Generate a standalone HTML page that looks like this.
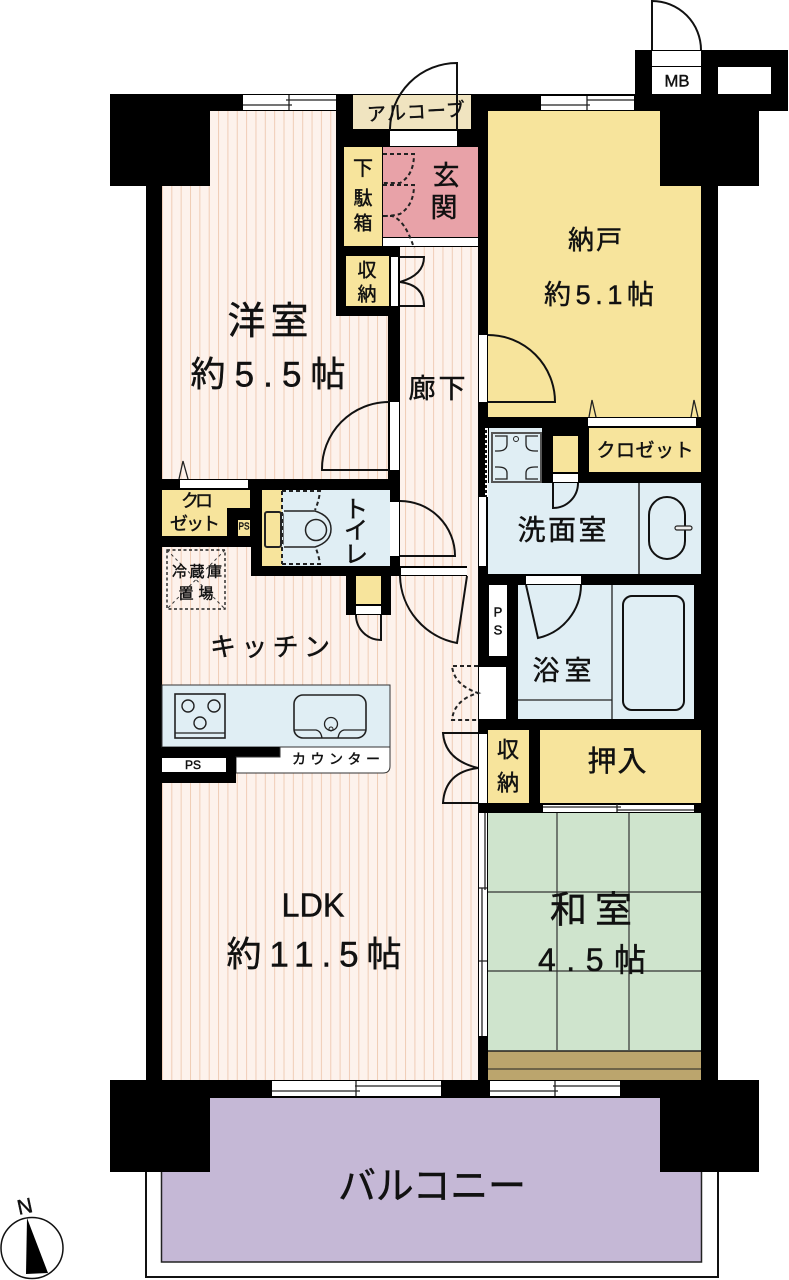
<!DOCTYPE html>
<html lang="ja"><head><meta charset="utf-8"><title>間取り図</title>
<style>
html,body{margin:0;padding:0;background:#fff}
svg{display:block}
text{font-family:"Liberation Sans","Noto Sans CJK JP",sans-serif;fill:#111;stroke:#111;stroke-width:.45;text-anchor:middle;dominant-baseline:central}
.l{fill:none;stroke:#111;stroke-width:2}
.t{fill:none;stroke:#222;stroke-width:1.3}
.d{fill:none;stroke:#222;stroke-width:2;stroke-dasharray:4 3}
.w{fill:#fff}
</style></head><body>
<svg xmlns="http://www.w3.org/2000/svg" width="789" height="1280" viewBox="0 0 789 1280">
<defs>
<pattern id="s" width="9.35" height="20" patternUnits="userSpaceOnUse" patternTransform="translate(3,0)">
<rect width="9.35" height="20" fill="#fdf2ec"/><rect x="0" width="1" height="20" fill="#f0cdb6"/>
</pattern>
</defs>
<rect width="789" height="1280" fill="#fff"/>
<!-- balcony rail + balcony -->
<rect x="146" y="1100" width="572" height="177" fill="#fff" stroke="#111" stroke-width="2"/>
<rect x="161.500" y="1098" width="540" height="164" fill="#c5b8d6" stroke="#222" stroke-width="1.500"/>
<!-- black structure -->
<rect x="146" y="94" width="572" height="1004" fill="#000"/>
<rect x="110" y="94" width="100" height="92" fill="#000"/>
<rect x="635" y="50" width="153" height="61" fill="#000"/>
<rect x="660" y="94" width="99" height="92" fill="#000"/>
<rect x="110" y="1080" width="100" height="92" fill="#000"/>
<rect x="660" y="1080" width="99" height="92" fill="#000"/>
<rect x="210" y="1098" width="450" height="2" fill="#c5b8d6"/>
<!-- MB -->
<rect class="w" x="652" y="51" width="49" height="15"/>
<rect class="w" x="652" y="67" width="49" height="27"/>
<rect class="w" x="718" y="67" width="53" height="27"/>
<path class="l" d="M652 50V1A49 49 0 0 1 701 50" stroke-width="1.500"/>
<text x="677" y="81" font-size="17" textLength="25" lengthAdjust="spacingAndGlyphs">MB</text>
<!-- striped rooms -->
<path fill="url(#s)" d="M210 111H336V316H388V479H162V186H210Z"/>
<rect fill="url(#s)" x="400" y="247" width="78" height="319"/>
<path fill="url(#s)" d="M162 547H251V576H346V615H391V576H467V566H478V1080H162Z"/>
<!-- top windows -->
<rect class="w" x="243" y="95" width="93" height="15"/>
<path class="t" d="M243 105H292M289 95V110M286 100H336"/>
<rect class="w" x="541" y="96" width="93" height="14"/>
<path class="t" d="M541 105H590M587 100H634M587 96V110"/>
<!-- alcove / entry -->
<rect x="353" y="95" width="118" height="34" fill="#f0e4c0"/>
<rect class="w" x="390" y="131" width="67" height="15"/>
<rect x="383" y="147" width="95" height="90" fill="#e8a2a8"/>
<rect x="344" y="147" width="38" height="99" fill="#f7e49c"/>
<rect class="w" x="383" y="238" width="95" height="8"/>
<rect x="346" y="256" width="43" height="50" fill="#f7e49c"/>
<rect class="w" x="391" y="257" width="7" height="49"/>
<path class="l" d="M457 130V63A67 67 0 0 0 390 130" stroke-width="1.600"/>
<path class="d" d="M383 154H414Q414 175 400 183H383M383 185H400H414Q414 205 400 214Q392 216 383 216M383 216H392Q405 220 414 248"/>
<path class="l" d="M400 257H424Q424 275 400 282Q424 285 424 306H400" stroke-width="1.600"/>
<!-- nando -->
<path fill="#f7e49c" d="M488 111H660V186H701V417H488Z"/>
<rect class="w" x="479" y="335" width="8" height="67"/>
<path class="l" d="M488 335A67 67 0 0 1 555 402H488"/>
<path class="t" d="M589 417L592 400L596 417M691 417L694 400L698 417"/>
<!-- closet / utility -->
<rect class="w" x="588" y="418" width="108" height="8"/>
<rect x="589" y="428" width="112" height="44" fill="#f7e49c"/>
<rect x="553" y="436" width="25" height="36" fill="#f7e49c"/>
<rect class="w" x="553" y="474" width="25" height="8"/>
<rect x="489" y="428" width="53" height="56" fill="#e0eef4"/>
<rect x="488" y="483" width="213" height="91" fill="#e0eef4"/>
<rect class="w" x="485" y="428" width="3" height="69"/>
<path d="M486 430V497" stroke="#111" stroke-width="2" stroke-dasharray="3 2"/>
<rect class="w" x="479" y="497" width="7" height="69"/>
<path d="M639 483V574" stroke="#222" stroke-width="1.500"/>
<rect x="492" y="433" width="49" height="49" fill="none" stroke="#555" stroke-width="2"/>
<path class="t" d="M495 436H507V444Q507 451 498 451H495M538 436H526V444Q526 451 535 451H538M495 479H507V473Q507 467 498 467H495M538 479H526V473Q526 467 535 467H538"/>
<circle cx="516" cy="439" r="2.500" fill="none" stroke="#222"/>
<path class="l" d="M553 483V508A25 25 0 0 0 578 483" stroke-width="1.500"/>
<rect class="l" x="649" y="497" width="36" height="62" rx="18" stroke-width="1.500"/>
<rect x="675" y="526" width="17" height="4" rx="2" fill="#eee" stroke="#222" stroke-width="1.200"/>
<!-- bath -->
<rect x="518" y="585" width="176" height="134" fill="#e0eef4"/>
<rect class="w" x="526" y="576" width="55" height="8"/>
<path class="l" d="M526 585L538 638A55 55 0 0 0 581 585" stroke-width="1.600"/>
<path d="M612 585V719M518 700H612" stroke="#222" stroke-width="1.300"/>
<rect class="l" x="623" y="596" width="61" height="114" rx="9" stroke-width="1.500"/>
<rect class="w" x="489" y="585" width="18" height="71"/>
<rect class="w" x="479" y="667" width="27" height="52"/>
<path class="d" d="M478 666H452Q454 685 478 693Q454 700 452 720H478" stroke-width="1.400"/>
<!-- storage -->
<rect class="w" x="479" y="734" width="8" height="69"/>
<rect x="488" y="730" width="41" height="73" fill="#f7e49c"/>
<rect x="540" y="730" width="161" height="73" fill="#f7e49c"/>
<path class="l" d="M478 733H443Q445 760 478 768Q445 772 443 803H478" stroke-width="1.500"/>
<rect class="w" x="543" y="805" width="151" height="7"/>
<path class="t" d="M543 807H621M617 810H694M617 804V812"/>
<!-- washitsu -->
<rect x="488" y="813" width="213" height="238" fill="#cfe4cd"/>
<path d="M557 813V1050M629 813V1050" stroke="#333" stroke-width="1.200"/>
<path d="M488 892H701M488 971H701" stroke="#333" stroke-width="1.300"/>
<rect x="488" y="1051" width="213" height="29" fill="#bba56d"/>
<path d="M488 1051H701" stroke="#222" stroke-width="1.600"/>
<path d="M488 1069H701" stroke="#222" stroke-width="1.100"/>
<rect class="w" x="479" y="813" width="8" height="223"/>
<path class="t" d="M485 813V890M482 888V1036M479 888H487M479 961H487"/>
<!-- bottom windows -->
<rect class="w" x="272" y="1081" width="169" height="15"/>
<path class="t" d="M272 1091H360M355 1086H441M356 1081V1096"/>
<rect class="w" x="490" y="1081" width="130" height="15"/>
<path class="t" d="M490 1091H558M553 1086H620M555 1081V1096"/>
<!-- western door -->
<rect class="w" x="390" y="402" width="9" height="68"/>
<path class="l" d="M389 402A67 67 0 0 0 322 470H389"/>
<!-- closet left -->
<rect class="w" x="180" y="480" width="68" height="8"/>
<path class="t" d="M179 479L183 461L188 479"/>
<path fill="#f7e49c" d="M162 490H250V508H227V536H162Z"/>
<rect x="238" y="520" width="12" height="16" fill="#f7e49c"/>
<!-- toilet -->
<rect x="262" y="490" width="128" height="76" fill="#e0eef4"/>
<rect x="262" y="490" width="20" height="76" fill="#f7e49c"/>
<rect class="w" x="390" y="502" width="9" height="54"/>
<path class="l" d="M400 501A55 55 0 0 1 455 556H400"/>
<path class="d" d="M282 491H320Q319 501 315 510M282 564H320Q319 556 315 546M282 491V564" stroke-width="1.500"/>
<rect x="265" y="512" width="16" height="35" rx="2" fill="#f7e49c" stroke="#222" stroke-width="2"/>
<rect x="284" y="514" width="9" height="30" fill="#e0eef4" stroke="#222" stroke-width="1.200"/>
<path d="M284 511H315Q331 516 331 529Q331 542 315 547H284" fill="#e0eef4" stroke="#222" stroke-width="1.500"/>
<circle cx="316" cy="530" r="10.500" fill="none" stroke="#222" stroke-width="1.500"/>
<!-- fridge -->
<rect x="167" y="550" width="58" height="59" fill="none" stroke="#222" stroke-width="1.400" stroke-dasharray="3 2.500"/>
<path d="M167 550L225 609M225 550L167 609" stroke="#333" stroke-width="1" stroke-dasharray="3 3"/>
<!-- small closet -->
<rect x="356" y="576" width="25" height="28" fill="#f7e49c"/>
<rect class="w" x="356" y="606" width="25" height="8"/>
<path class="l" d="M356 615A25 25 0 0 0 381 640V615" stroke-width="1.500"/>
<!-- LDK door -->
<rect class="w" x="401" y="568" width="66" height="7"/>
<path class="l" d="M400 576A70 70 0 0 0 457 643L467 576"/>
<!-- kitchen counter -->
<rect x="162" y="685" width="228" height="62" fill="#e0eef4" stroke="#333" stroke-width="1"/>
<rect x="162" y="747" width="118" height="10" fill="#000"/>
<path class="w" d="M236 757H280V747H390V766Q390 773 383 773H236Z" stroke="#333" stroke-width="1"/>
<rect x="162" y="757" width="74" height="26" fill="#000"/>
<rect class="w" x="162" y="758" width="64" height="14"/>
<rect x="175" y="694" width="50" height="44" fill="none" stroke="#222" stroke-width="1.600"/>
<path d="M175 733H225" stroke="#222" stroke-width="1.200"/>
<circle cx="188" cy="706" r="6" fill="none" stroke="#222" stroke-width="1.400"/>
<circle cx="214" cy="706" r="6" fill="none" stroke="#222" stroke-width="1.400"/>
<circle cx="200" cy="723" r="6" fill="none" stroke="#222" stroke-width="1.400"/>
<rect x="294" y="695" width="72" height="43" rx="9" fill="none" stroke="#222" stroke-width="1.600"/>
<path class="t" d="M294 730H316Q321 731 322 738M366 730H344Q339 731 338 738"/>
<circle cx="331" cy="724" r="6.500" fill="none" stroke="#222" stroke-width="1.300"/>
<circle cx="331" cy="729" r="2" fill="none" stroke="#222"/>
<!-- labels -->
<text x="416" y="113" font-size="19" transform="rotate(-3 416 113)" textLength="98" lengthAdjust="spacing">アルコーブ</text>
<text x="363" y="169" font-size="20">下</text>
<text x="363" y="199" font-size="19">駄</text>
<text x="363" y="224" font-size="19">箱</text>
<text x="446" y="176" font-size="27">玄</text>
<text x="444" y="208" font-size="27">関</text>
<text x="367" y="271" font-size="19">収</text>
<text x="367" y="295" font-size="19">納</text>
<text x="268" y="322" font-size="38" textLength="81" lengthAdjust="spacing">洋室</text>
<text x="268" y="375" font-size="35" textLength="155" lengthAdjust="spacing">約5.5帖</text>
<text x="595" y="240" font-size="26" textLength="54" lengthAdjust="spacing">納戸</text>
<text x="599" y="295" font-size="27" textLength="110" lengthAdjust="spacing">約5.1帖</text>
<text x="437" y="389" font-size="27" textLength="57" lengthAdjust="spacing">廊下</text>
<text x="645" y="451" font-size="19" textLength="97" lengthAdjust="spacing">クロゼット</text>
<text x="562" y="530" font-size="28" textLength="89" lengthAdjust="spacing">洗面室</text>
<text x="562" y="671" font-size="27" textLength="59" lengthAdjust="spacing">浴室</text>
<text x="617" y="762" font-size="29" textLength="59" lengthAdjust="spacing">押入</text>
<text x="508" y="750" font-size="22">収</text>
<text x="508" y="783" font-size="22">納</text>
<text x="498" y="612" font-size="13">P</text>
<text x="498" y="630" font-size="13">S</text>
<text x="356" y="510" font-size="24">ト</text>
<text x="356" y="531" font-size="24">イ</text>
<text x="356" y="555" font-size="24">レ</text>
<text x="197" y="501" font-size="18" textLength="32" lengthAdjust="spacing">クロ</text>
<text x="195" y="524" font-size="18" textLength="50" lengthAdjust="spacing">ゼット</text>
<text x="244" y="527" font-size="10" textLength="11" lengthAdjust="spacingAndGlyphs">PS</text>
<text x="197" y="572" font-size="15" textLength="50" lengthAdjust="spacing">冷蔵庫</text>
<text x="196" y="594" font-size="15" textLength="35" lengthAdjust="spacing">置場</text>
<text x="270" y="647" font-size="26" textLength="120" lengthAdjust="spacing">キッチン</text>
<text x="193" y="765" font-size="12">PS</text>
<text x="336" y="759" font-size="14" textLength="88" lengthAdjust="spacing">カウンター</text>
<text x="313" y="905" font-size="33" textLength="63" lengthAdjust="spacingAndGlyphs">LDK</text>
<text x="314" y="955" font-size="35" textLength="175" lengthAdjust="spacing">約11.5帖</text>
<text x="591" y="910" font-size="37" textLength="82" lengthAdjust="spacing">和室</text>
<text x="592" y="960" font-size="32" textLength="108" lengthAdjust="spacing">4.5帖</text>
<text x="432" y="1187" font-size="38" textLength="188" lengthAdjust="spacing">バルコニー</text>
<!-- north -->
<ellipse cx="32" cy="1248" rx="31" ry="30.500" fill="#fff" stroke="#111" stroke-width="1.500"/>
<path d="M27 1218L48 1273L26 1274Z" fill="#000"/>
<text x="25" y="1207" font-size="21" transform="rotate(-12 25 1207)">N</text>
</svg>
</body></html>
